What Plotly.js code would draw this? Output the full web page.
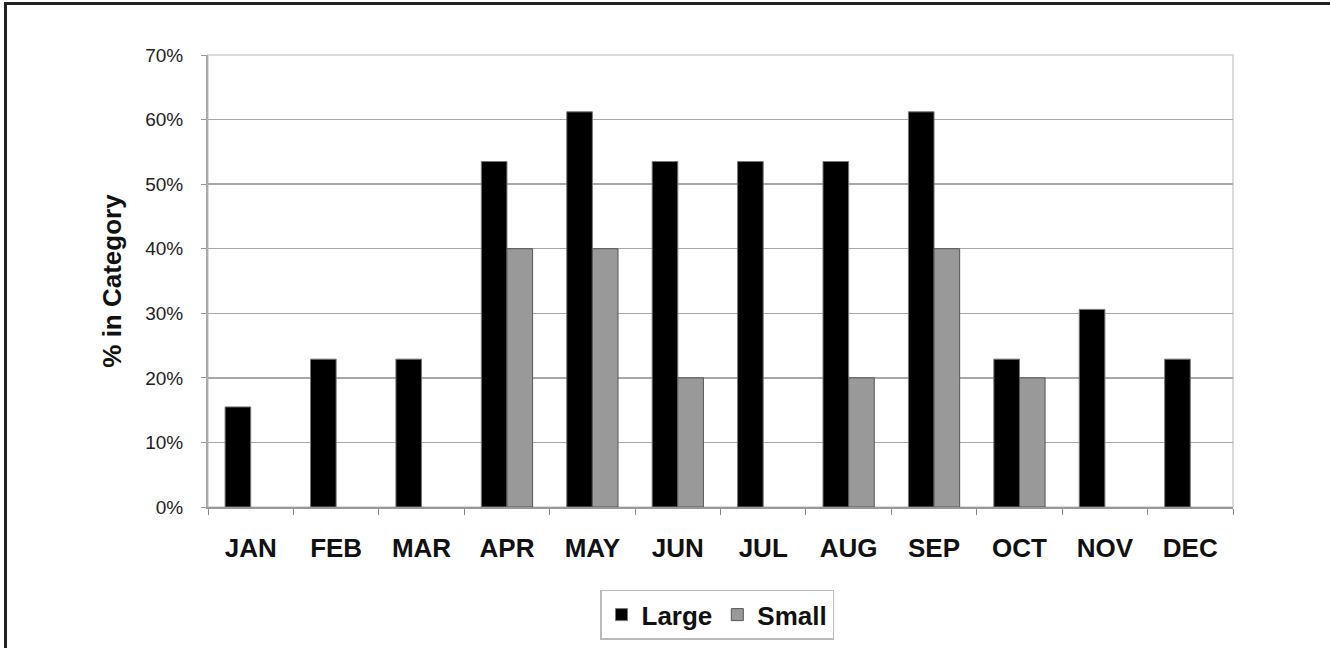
<!DOCTYPE html>
<html>
<head>
<meta charset="utf-8">
<script src="https://cdn.plot.ly/plotly-3.0.1.min.js"></script>
<style>
  html, body { margin: 0; padding: 0; background: #fff; overflow: hidden; }
  #frame { position: absolute; left: 4px; top: 2px; width: 1330px; height: 650px;
           border-left: 3px solid #222; border-top: 3px solid #222; pointer-events: none; z-index: 5; }
  #chart { position: absolute; left: 0; top: 0; width: 1330px; height: 648px; }
</style>
</head>
<body>
<div id="chart"></div>
<div id="frame"></div>
<script>
const months = ["JAN","FEB","MAR","APR","MAY","JUN","JUL","AUG","SEP","OCT","NOV","DEC"];
const largeValues = [0.155, 0.229, 0.229, 0.535, 0.612, 0.535, 0.535, 0.535, 0.612, 0.229, 0.306, 0.229];
const smallValues = [null, null, null, 0.40, 0.40, 0.20, null, 0.20, 0.40, 0.20, null, null];
const seriesNames = ["Large", "Small"];
const yTickVals = [0, 0.1, 0.2, 0.3, 0.4, 0.5, 0.6, 0.7];

const fontFam = "Arial, 'Liberation Sans', sans-serif";

const traces = [
  { type: "bar", name: seriesNames[0], x: months, y: largeValues,
    marker: { color: "#000000", line: { color: "#777777", width: 1 } }, hoverinfo: "skip" },
  { type: "bar", name: seriesNames[1], x: months, y: smallValues,
    marker: { color: "#999999", line: { color: "#555555", width: 1 } }, hoverinfo: "skip" }
];

const layout = {
  width: 1330, height: 648,
  margin: { l: 208, r: 97, t: 55, b: 141, pad: 0, autoexpand: false },
  paper_bgcolor: "#ffffff", plot_bgcolor: "#ffffff",
  barmode: "group", bargap: 0.4, bargroupgap: 0,
  font: { family: fontFam, color: "#111" },
  xaxis: {
    type: "category", tickson: "boundaries",
    ticks: "outside", ticklen: 6, tickcolor: "#888", tickwidth: 1,
    showgrid: false, showline: true, linecolor: "#999", linewidth: 1.5,
    tickfont: { family: fontFam, size: 26, color: "#111", weight: "bold" },
    ticklabelstandoff: 17, automargin: false,
    mirror: false, zeroline: false
  },
  yaxis: {
    range: [0, 0.7], tickvals: yTickVals, tickformat: ".0%",
    ticks: "outside", ticklen: 5, tickcolor: "#999", tickwidth: 1,
    showgrid: true, gridcolor: "#a8a8a8", gridwidth: 1.5,
    showline: true, linecolor: "#aaa", linewidth: 2,
    zeroline: false, automargin: false,
    tickfont: { family: fontFam, size: 19, color: "#222" },
    ticklabelstandoff: 14,
    title: { text: "% in Category", font: { family: fontFam, size: 26, color: "#111", weight: "bold" }, standoff: 16 }
  },
  shapes: [
    { type: "rect", xref: "paper", yref: "paper", x0: 0, x1: 1, y0: 0, y1: 1,
      line: { color: "#d0d0d0", width: 1.5 }, fillcolor: "rgba(0,0,0,0)", layer: "below" }
  ],
  showlegend: true,
  legend: {
    orientation: "h", x: 0.4966, xanchor: "center", y: -0.183, yanchor: "top",
    bordercolor: "#bbbbbb", borderwidth: 1.5, bgcolor: "#ffffff",
    font: { family: fontFam, size: 26, color: "#111", weight: "bold" },
    itemwidth: 30, traceorder: "normal"
  }
};

Plotly.newPlot("chart", traces, layout, { displayModeBar: false, staticPlot: true });
</script>
</body>
</html>
